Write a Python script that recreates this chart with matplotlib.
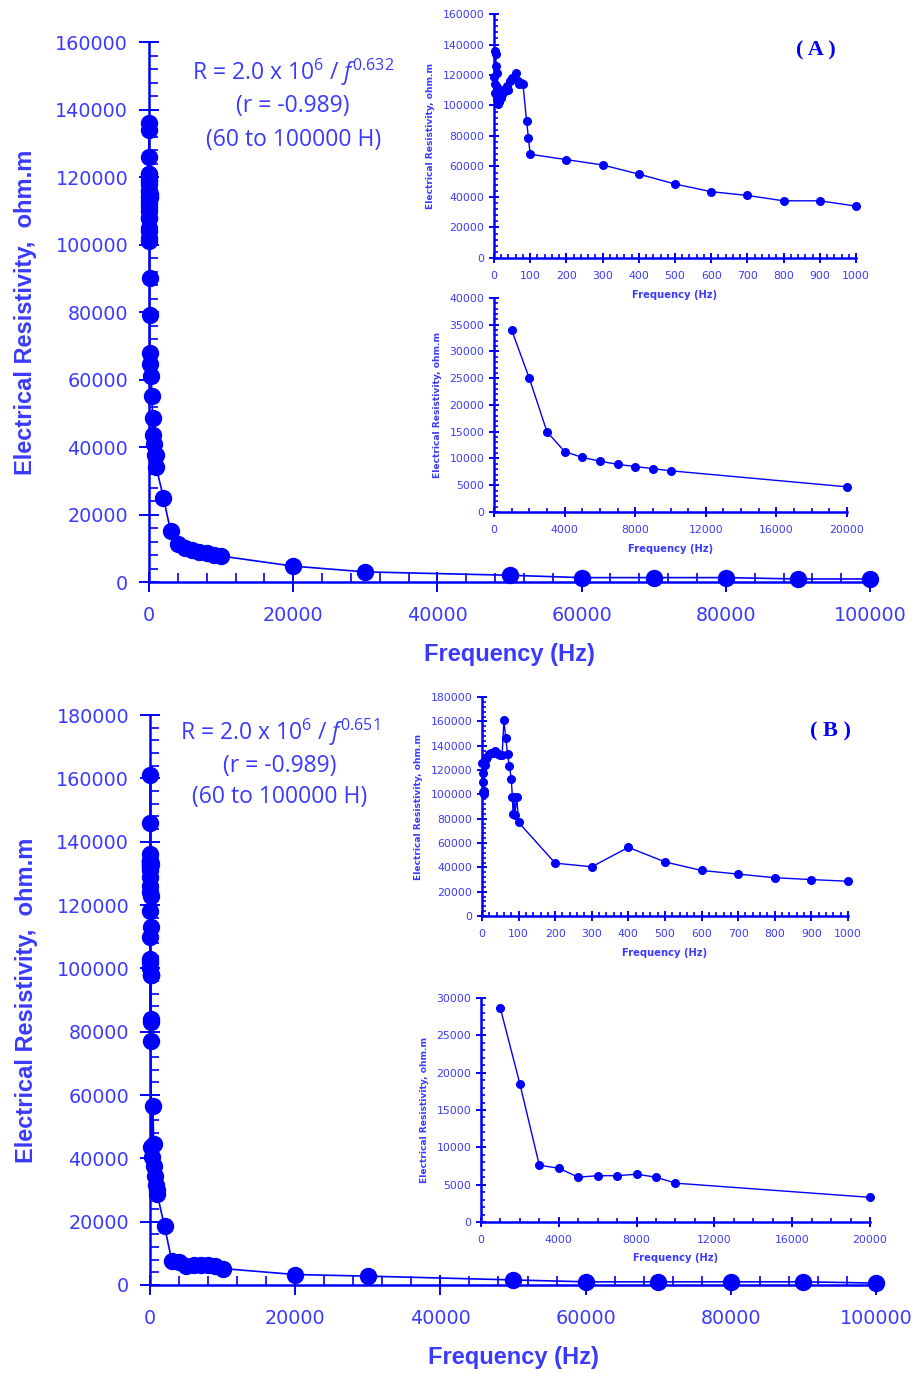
import numpy as np
import matplotlib
matplotlib.use("Agg")
import matplotlib.pyplot as plt
from matplotlib.ticker import MultipleLocator

plt.rcParams["font.family"] = ["DejaVu Sans"]
plt.rcParams["mathtext.fontset"] = "custom"
plt.rcParams["mathtext.rm"] = "Open Sans"
plt.rcParams["mathtext.it"] = "Open Sans:italic"

# ---- data (A) ----
freq_a = [1, 2, 3, 4, 5, 6, 7, 8, 9, 10, 15, 20, 25, 30, 35, 40, 45, 50, 55, 60,
          65, 70, 75, 80, 90, 95, 100, 200, 300, 400, 500, 600, 700, 800, 900, 1000,
          2000, 3000, 4000, 5000, 6000, 7000, 8000, 9000, 10000, 20000, 30000,
          50000, 60000, 70000, 80000, 90000, 100000]
res_a = [119000, 108000, 114000, 136000, 134000, 126000, 121000, 112000, 104000, 101000,
         102000, 105000, 108000, 111000, 113000, 110000, 116000, 118000, 119000, 121000,
         116000, 114000, 115000, 114000, 90000, 79000, 68000, 64500, 61000, 55000,
         48500, 43500, 41000, 37500, 37500, 34000,
         25000, 15000, 11300, 10200, 9500, 8900, 8500, 8100, 7700, 4700, 3000,
         2000, 1300, 1300, 1300, 900, 900]

# ---- data (B) ----
freq_b = [1, 2, 3, 4, 5, 6, 8, 10, 15, 20, 25, 30, 35, 40, 45, 50, 55, 60, 65, 70,
          75, 80, 83, 85, 88, 90, 95, 100, 200, 300, 400, 500, 600, 700, 800, 900, 1000,
          2000, 3000, 4000, 5000, 6000, 7000, 8000, 9000, 10000, 20000, 30000,
          50000, 60000, 70000, 80000, 90000, 100000]
res_b = [126000, 118000, 110000, 102000, 100000, 103000, 124000, 129000, 131000, 133000,
         134000, 134000, 136000, 134000, 133000, 132000, 132000, 161000, 146000, 133000,
         123000, 113000, 98000, 84000, 98000, 83000, 98000, 77000, 43500, 40500, 56500,
         44500, 37500, 34500, 31500, 30000, 28600,
         18500, 7600, 7200, 6000, 6200, 6200, 6400, 6000, 5200, 3300, 2800,
         1600, 1000, 1000, 1000, 1000, 600]

eq_a = [r"R = 2.0 x 10$^{6}$ / $f^{0.632}$", "(r = -0.989)", "(60 to 100000 H)"]
eq_b = [r"R = 2.0 x 10$^{6}$ / $f^{0.651}$", "(r = -0.989)", "(60 to 100000 H)"]

BLUE = "#0000ff"
TXT = "#3a3aff"

fig = plt.figure(figsize=(9.17, 13.73), dpi=100)


def style_axes(ax, xmaj, xmin, ymaj, ymin, fs, ticklen):
    for s in ["top", "right"]:
        ax.spines[s].set_visible(False)
    for s in ["left", "bottom"]:
        ax.spines[s].set_color(BLUE)
        ax.spines[s].set_linewidth(1.8)
    ax.xaxis.set_major_locator(MultipleLocator(xmaj))
    ax.xaxis.set_minor_locator(MultipleLocator(xmin))
    ax.yaxis.set_major_locator(MultipleLocator(ymaj))
    ax.yaxis.set_minor_locator(MultipleLocator(ymin))
    ax.tick_params(which="major", direction="inout", length=ticklen, width=1.4,
                   color=BLUE, labelcolor=TXT, labelsize=fs)
    ax.tick_params(which="minor", direction="in", length=ticklen * 0.45, width=1.2,
                   color=BLUE)


def main_panel(rect, f, r, ymax):
    ax = fig.add_axes(rect)
    ax.plot(f, r, "-o", color=BLUE, lw=1.2, ms=11.5, clip_on=False, zorder=3)
    ax.set_xlim(0, 100000)
    ax.set_ylim(0, ymax)
    style_axes(ax, 20000, 4000, 20000, 4000, 13.8, 14)
    ax.tick_params(axis="x", pad=10)
    ax.tick_params(axis="y", pad=8)
    ax.set_xlabel("Frequency (Hz)", family="Liberation Sans", weight="bold",
                  fontsize=17, color=TXT, labelpad=13)
    ax.set_ylabel("Electrical Resistivity,  ohm.m", family="Liberation Sans",
                  weight="bold", fontsize=17, color=TXT, labelpad=13)
    return ax


def inset(rect, f, r, xlim, ylim, xmaj, xmin, ymaj, ymin, fmin, tag=None, tagpos=None):
    ax = fig.add_axes(rect)
    ax.set_facecolor("none")
    f = np.array(f)
    r = np.array(r)
    m = (f >= fmin) & (f <= xlim[1])
    ax.plot(f[m], r[m], "-o", color=BLUE, lw=1.0, ms=5.5, clip_on=False, zorder=3)
    ax.set_xlim(*xlim)
    ax.set_ylim(*ylim)
    style_axes(ax, xmaj, xmin, ymaj, ymin, 7.8, 7)
    ax.tick_params(axis="x", pad=6)
    ax.set_xlabel("Frequency (Hz)", weight="bold", fontsize=7.2, color=TXT, labelpad=6)
    ax.set_ylabel("Electrical Resistivity, ohm.m", weight="bold", fontsize=6.6,
                  color=TXT, labelpad=5)
    if tag:
        ax.text(tagpos[0], tagpos[1], tag, transform=ax.transAxes, ha="center",
                va="center", family="Liberation Serif", weight="bold", fontsize=16,
                color=BLUE)
    return ax


# panel A
axa = main_panel([0.1625, 0.5761, 0.7863, 0.3933], freq_a, res_a, 160000)
for t, y in zip(eq_a, [0.944, 0.881, 0.819]):
    axa.text(0.2, y, t, transform=axa.transAxes, ha="center", va="center",
             family="Open Sans", fontsize=16.5, color=TXT)
inset([0.5387, 0.8121, 0.3948, 0.1777], freq_a, res_a, (0, 1000), (0, 160000),
      100, 20, 20000, 4000, 0, tag="( A )", tagpos=(0.89, 0.852))
inset([0.5387, 0.6271, 0.3850, 0.1559], freq_a, res_a, (0, 20000), (0, 40000),
      4000, 1000, 5000, 1000, 1000)

# panel B
axb = main_panel([0.1636, 0.0641, 0.7917, 0.4151], freq_b, res_b, 180000)
for t, y in zip(eq_b, [0.970, 0.911, 0.856]):
    axb.text(0.179, y, t, transform=axb.transAxes, ha="center", va="center",
             family="Open Sans", fontsize=16.5, color=TXT)
inset([0.5256, 0.3328, 0.3991, 0.1595], freq_b, res_b, (0, 1000), (0, 180000),
      100, 20, 20000, 4000, 0, tag="( B )", tagpos=(0.951, 0.845))
inset([0.5245, 0.1100, 0.4242, 0.1631], freq_b, res_b, (0, 20000), (0, 30000),
      4000, 1000, 5000, 1000, 1000)

fig.savefig("out.png", dpi=100)
